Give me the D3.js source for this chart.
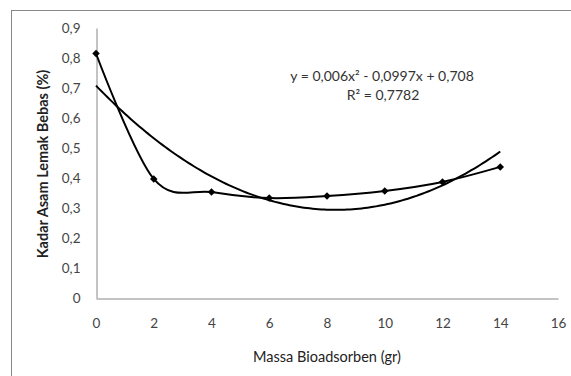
<!DOCTYPE html>
<html>
<head>
<meta charset="utf-8">
<script src="https://cdn.jsdelivr.net/npm/d3@7"></script>
<style>
  body { margin: 0; background: #fff; }
  svg { display: block; }
  .tick text { font-family: Lato, "Liberation Sans", sans-serif; font-size: 13.5px; fill: #444; }
</style>
</head>
<body>
<svg width="571" height="376"></svg>
<script>
// data
const massa = [0, 2, 4, 6, 8, 10, 12, 14];
const kadar = [0.815, 0.397, 0.353, 0.333, 0.34, 0.357, 0.387, 0.437];
const xTicks = [0, 2, 4, 6, 8, 10, 12, 14, 16];
const yTicks = [0, 0.1, 0.2, 0.3, 0.4, 0.5, 0.6, 0.7, 0.8, 0.9];
// polynomial trendline shown on chart
const trendCoef = [0.006, -0.0997, 0.708];
const eqLabel = "y = 0,006x² - 0,0997x + 0,708";
const r2Label = "R² = 0,7782";

const svg = d3.select("svg");
const fmt = (d) => String(d).replace(".", ",");

svg.append("rect")
  .attr("x", 11.5).attr("y", 10.5)
  .attr("width", 580).attr("height", 380)
  .attr("fill", "none").attr("stroke", "#888");

const x = d3.scaleLinear().domain([0, 16]).range([96, 558]);
const y = d3.scaleLinear().domain([0, 0.9]).range([298, 28]);

const xAxis = svg.append("g")
  .attr("transform", "translate(0,298.5)")
  .call(d3.axisBottom(x).tickValues(xTicks).tickSize(0).tickPadding(20).tickFormat(fmt));
xAxis.select(".domain").attr("stroke", "#888");

const yAxis = svg.append("g")
  .attr("transform", "translate(96.5,0)")
  .call(d3.axisLeft(y).tickValues(yTicks).tickSize(0).tickPadding(16).tickFormat(fmt));
yAxis.select(".domain").attr("stroke", "#888");

// trendline
const trendX = d3.range(0, 14.01, 0.1);
const poly = (t) => trendCoef[0] * t * t + trendCoef[1] * t + trendCoef[2];
svg.append("path")
  .datum(trendX)
  .attr("fill", "none").attr("stroke", "#000").attr("stroke-width", 2)
  .attr("d", d3.line().x((d) => x(d)).y((d) => y(poly(d))));

// data line
const pts = massa.map((m, i) => [m, kadar[i]]);
svg.append("path")
  .datum(pts)
  .attr("fill", "none").attr("stroke", "#000").attr("stroke-width", 2)
  .attr("d", d3.line().x((d) => x(d[0])).y((d) => y(d[1])).curve(d3.curveCardinal.tension(0)));

svg.selectAll(".pt")
  .data(pts)
  .enter()
  .append("path")
  .classed("pt", true)
  .attr("transform", (d) => `translate(${x(d[0])},${y(d[1])}) rotate(45)`)
  .attr("d", d3.symbol(d3.symbolSquare, 28))
  .attr("fill", "#000");

// labels
const lab = (sel, size) => sel.style("font-family", "Lato, sans-serif").style("font-size", size + "px");

lab(svg.append("text"), 14)
  .attr("x", 382).attr("y", 81)
  .attr("text-anchor", "middle").attr("fill", "#333")
  .text(eqLabel);
lab(svg.append("text"), 14)
  .attr("x", 383).attr("y", 100)
  .attr("text-anchor", "middle").attr("fill", "#333")
  .text(r2Label);

lab(svg.append("text"), 14.5)
  .attr("x", 327).attr("y", 362)
  .attr("text-anchor", "middle").attr("fill", "#222")
  .text("Massa Bioadsorben (gr)");

lab(svg.append("text"), 14.5)
  .attr("transform", "translate(48,164) rotate(-90)")
  .attr("text-anchor", "middle").style("font-weight", "bold").attr("fill", "#222")
  .text("Kadar Asam Lemak Bebas (%)");
</script>
</body>
</html>
